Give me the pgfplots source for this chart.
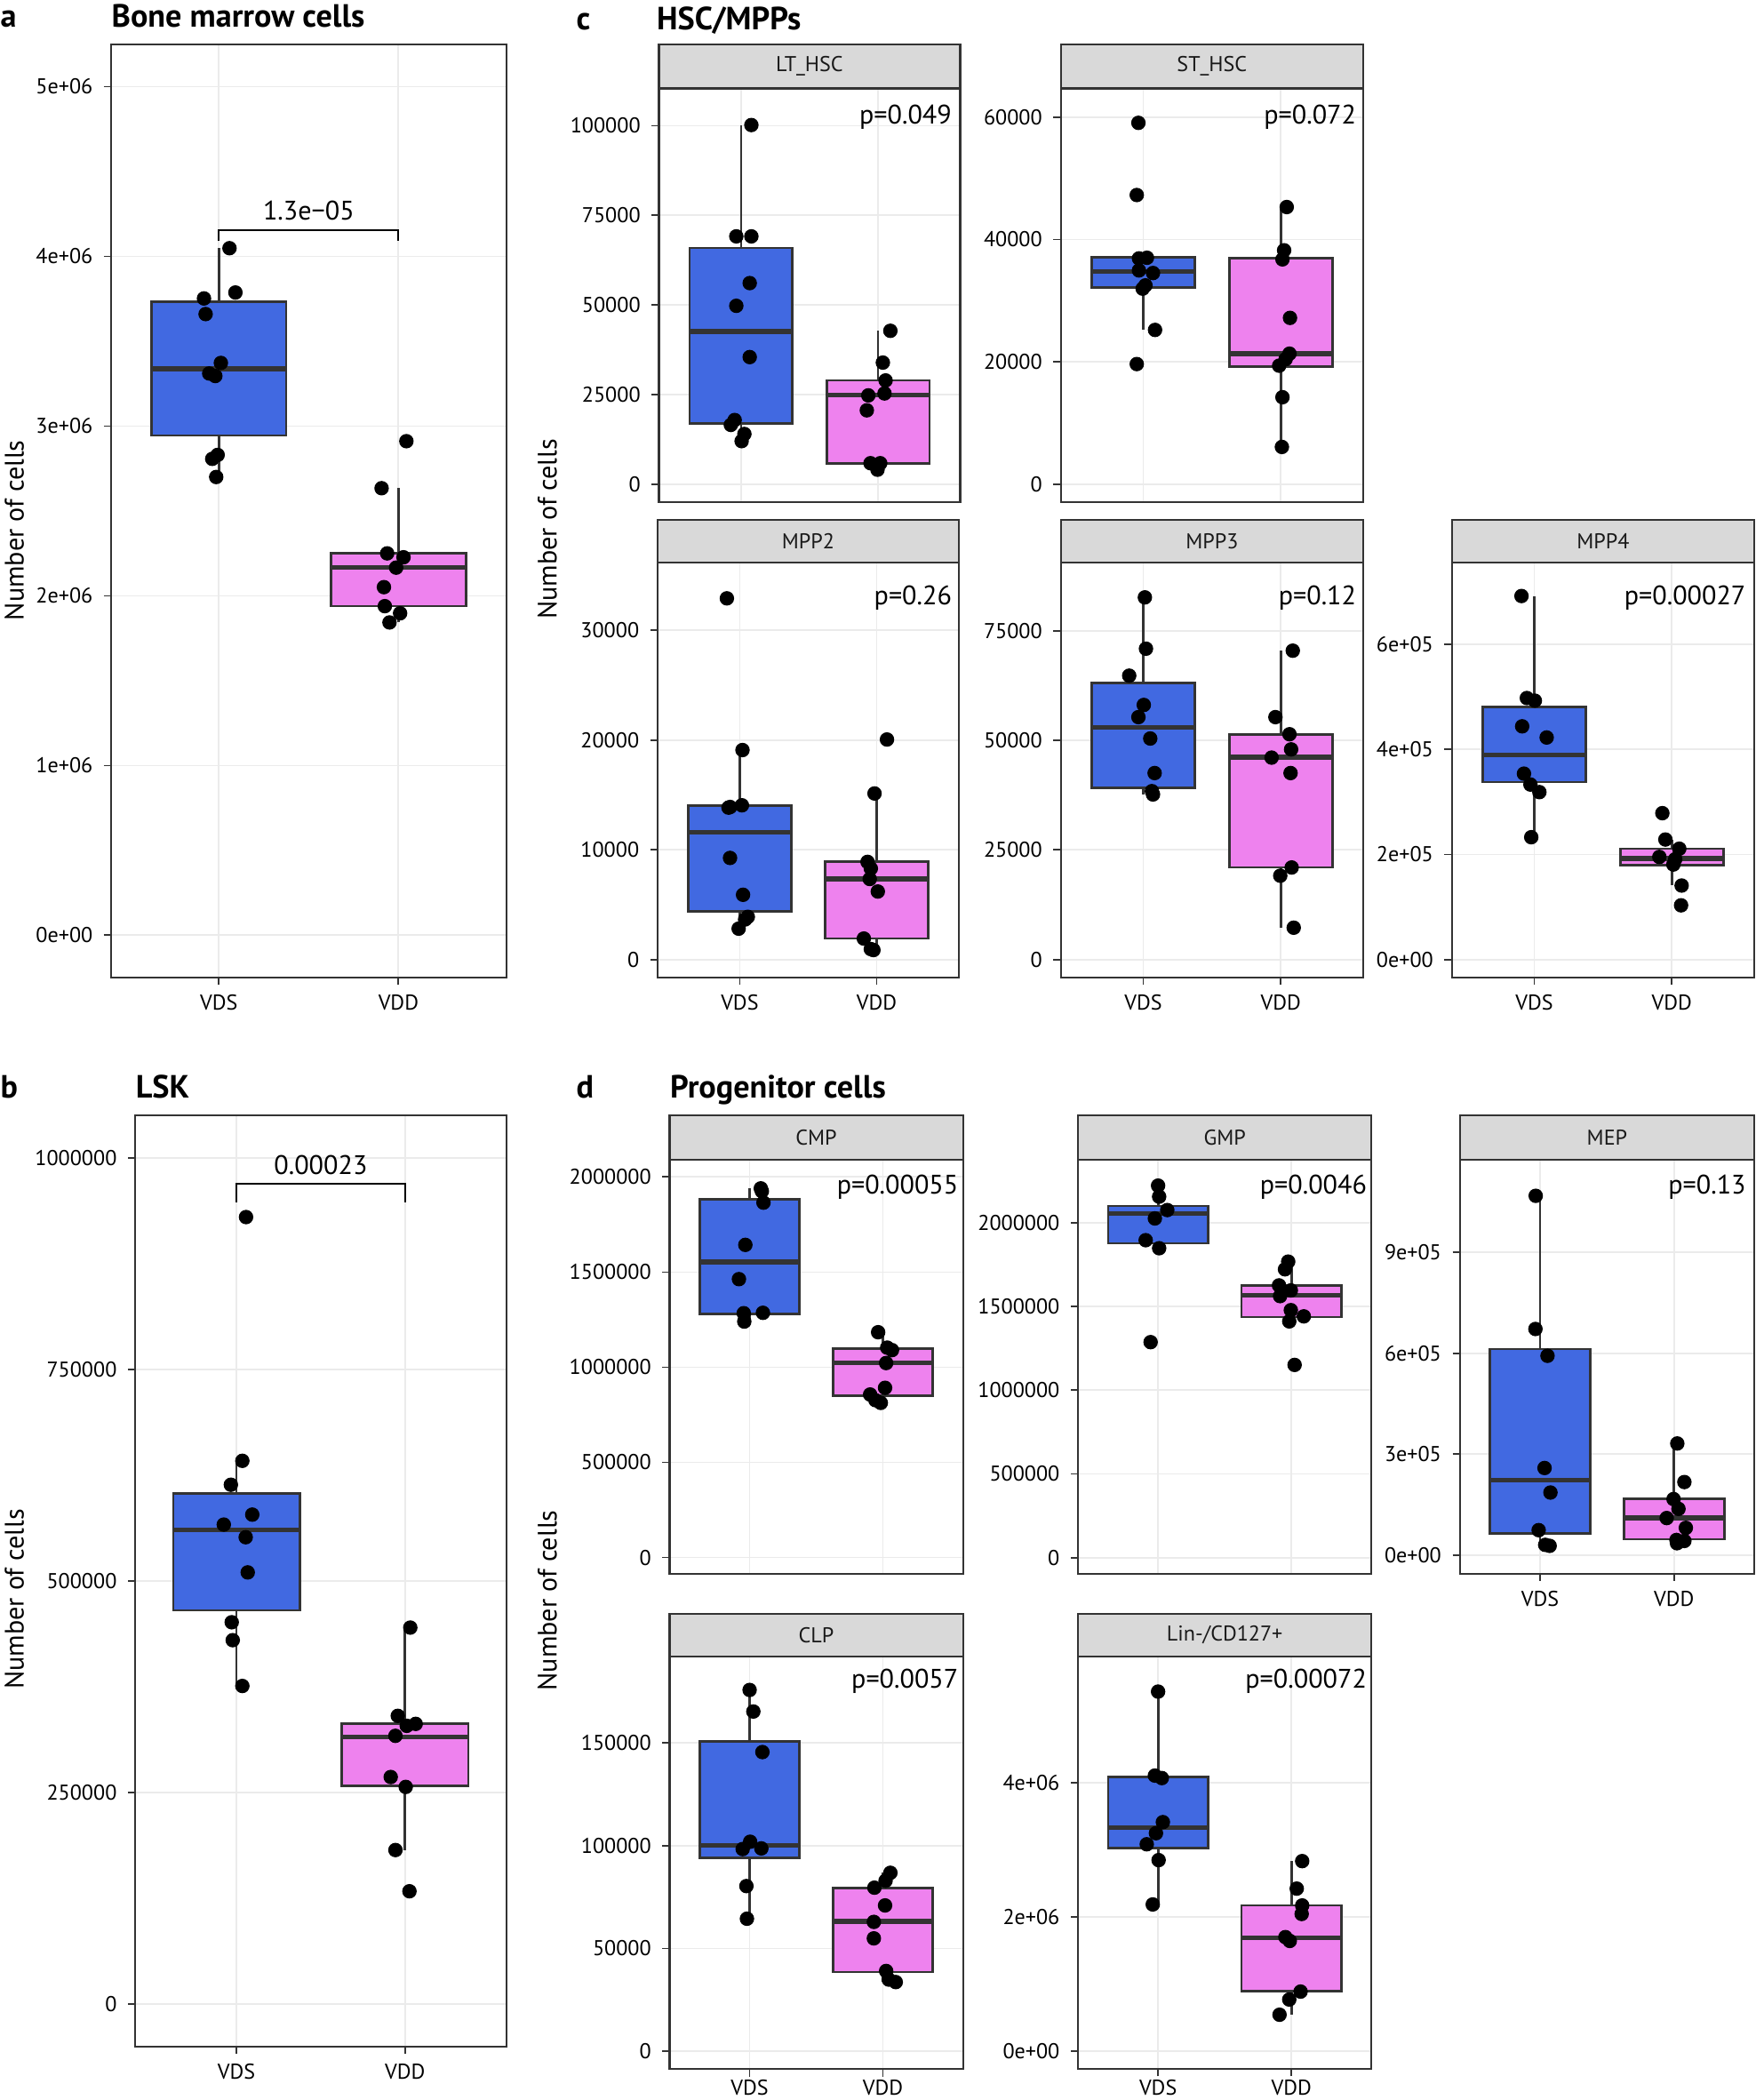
\documentclass[border=0pt]{standalone}
\usepackage{fontspec}
\setmainfont{PT Sans}
\usepackage{pgfplots}
\pgfplotsset{compat=1.18}
\usepgfplotslibrary{statistics}

\definecolor{vds}{HTML}{4169E1}
\definecolor{vdd}{HTML}{EE82EE}
\definecolor{ggdark}{HTML}{333333}
\definecolor{gggrid}{HTML}{EBEBEB}
\definecolor{ggstrip}{HTML}{D9D9D9}

% one pixel of the 1311 x 1568 layout grid
\def\px{0.5pt}

\pgfplotsset{
  gg/.style={
    scale only axis, anchor=north west, clip=false,
    xmin=0.4, xmax=2.6, xtick={1,2}, xticklabels={VDS,VDD},
    scaled y ticks=false,
    tick pos=left, tick align=outside, major tick length=2.7pt,
    tick style={draw=ggdark, line width=0.6pt},
    axis line style={draw=ggdark, line width=0.7pt},
    grid=major, major grid style={draw=gggrid, line width=0.6pt},
    tick label style={font=\fontsize{8}{9.6}\selectfont},
    yticklabel style={inner xsep=4pt},
    xticklabel style={inner ysep=3.5pt},
    boxplot/draw direction=y,
    boxplot/box extend=0.75,
    boxplot/whisker extend=0,
    boxplot/every median/.style={line width=1.8pt},
  },
  noxlab/.style={xticklabels={}, xtick style={draw=none}},
  lowrow/.style={xticklabel style={inner ysep=1.2pt}},
  bx/.style={draw=ggdark, line width=0.9pt},
  pts/.style={only marks, mark=*, mark size=2.5pt, black},
}
\tikzset{
  stripbox/.style={draw=ggdark, fill=ggstrip, line width=0.7pt},
  striplab/.style={font=\fontsize{8}{9.6}\selectfont, text=black!90},
  pval/.style={anchor=north east, inner sep=0pt, font=\fontsize{10}{12}\selectfont},
  ptitle/.style={anchor=base west, inner sep=0pt, font=\bfseries\fontsize{12}{14}\selectfont},
  ylab/.style={rotate=90, anchor=north, inner sep=0pt, font=\fontsize{10}{12}\selectfont},
}

\begin{document}
\begin{tikzpicture}
\path[use as bounding box] (0,0) rectangle (1311*\px,-1568*\px);

% titles and shared labels
\node[ptitle] at (0*\px,-20*\px) {a};
\node[ptitle] at (83*\px,-20*\px) {Bone marrow cells};
\node[ptitle] at (0*\px,-820*\px) {b};
\node[ptitle] at (101*\px,-820*\px) {LSK};
\node[ptitle] at (430*\px,-22*\px) {c};
\node[ptitle] at (490*\px,-22*\px) {HSC/MPPs};
\node[ptitle] at (430*\px,-820*\px) {d};
\node[ptitle] at (500*\px,-820*\px) {Progenitor cells};
\node[ylab] at (3*\px,-396*\px) {Number of cells};
\node[ylab] at (3*\px,-1194*\px) {Number of cells};
\node[ylab] at (401*\px,-395*\px) {Number of cells};
\node[ylab] at (401*\px,-1195*\px) {Number of cells};

% ---------- a: bone marrow ----------
\begin{axis}[gg, at={(83*\px,-33*\px)}, width=147.5pt, height=348.5pt,
  ymin=-250000, ymax=5250000,
  ytick={0,1000000,2000000,3000000,4000000,5000000},
  yticklabels={0e+00,1e+06,2e+06,3e+06,4e+06,5e+06}]
\addplot[bx, fill=vds, boxplot prepared={draw position=1, lower whisker=2700000,
  lower quartile=2945000, median=3337000, upper quartile=3733000, upper whisker=4048000}] coordinates {};
\addplot[bx, fill=vdd, boxplot prepared={draw position=2, lower whisker=1843000,
  lower quartile=1939000, median=2166000, upper quartile=2250000, upper whisker=2634000}] coordinates {};
\addplot[pts] coordinates {(1.059,4048000)(0.917,3752000)(1.092,3787000)(0.926,3660000)(1.011,3372000)
  (0.946,3310000)(0.980,3295000)(0.993,2830000)(0.963,2807000)(0.985,2700000)};
\addplot[pts] coordinates {(2.044,2911000)(1.906,2634000)(1.937,2250000)(2.028,2227000)(1.987,2166000)
  (1.919,2051000)(1.924,1939000)(2.009,1897000)(1.950,1843000)};
\addplot[black, line width=0.6pt] coordinates {(1,4090000)(1,4155000)(2,4155000)(2,4090000)};
\node[anchor=south, inner sep=0pt, font=\fontsize{10}{12}\selectfont] at (axis cs:1.5,4210000) {1.3e−05};
\end{axis}

% ---------- b: LSK ----------
\begin{axis}[gg, at={(101*\px,-833*\px)}, width=138.5pt, height=347.5pt,
  ymin=-50000, ymax=1050000,
  ytick={0,250000,500000,750000,1000000},
  yticklabels={0,250000,500000,750000,1000000}]
\addplot[bx, fill=vds, boxplot prepared={draw position=1, lower whisker=376000,
  lower quartile=465500, median=560400, upper quartile=603600, upper whisker=641300}] coordinates {};
\addplot[bx, fill=vdd, boxplot prepared={draw position=2, lower whisker=182100,
  lower quartile=258200, median=315500, upper quartile=331200, upper whisker=445000}] coordinates {};
\addplot[pts] coordinates {(1.057,930140)(1.035,642070)(0.967,613800)(1.094,578500)(0.925,566700)
  (1.055,551800)(1.067,510200)(0.972,451300)(0.978,430100)(1.035,376000)};
\addplot[pts] coordinates {(2.031,445000)(1.957,340700)(2.010,328900)(2.063,331200)(1.943,317100)
  (1.915,268400)(2.004,256700)(1.943,182100)(2.026,133400)};
\addplot[black, line width=0.6pt] coordinates {(1,947400)(1,969300)(2,969300)(2,947400)};
\node[anchor=south, inner sep=0pt, font=\fontsize{10}{12}\selectfont] at (axis cs:1.5,979000) {0.00023};
\end{axis}

% ---------- c: LT_HSC ----------
\begin{axis}[gg, noxlab, at={(492*\px,-66*\px)}, width=112.5pt, height=154.5pt,
  ymin=-5000, ymax=110400,
  ytick={0,25000,50000,75000,100000}, yticklabels={0,25000,50000,75000,100000}]
\addplot[bx, fill=vds, boxplot prepared={draw position=1, lower whisker=12036,
  lower quartile=17014, median=42624, upper quartile=65882, upper whisker=100181}] coordinates {};
\addplot[bx, fill=vdd, boxplot prepared={draw position=2, lower whisker=4072,
  lower quartile=5882, median=24887, upper quartile=28959, upper whisker=42805}] coordinates {};
\addplot[pts] coordinates {(1.075,100181)(0.965,69140)(1.075,69140)(1.063,56109)(0.965,49774)
  (1.063,35475)(0.953,17919)(0.925,16561)(1.024,14027)(1.004,12036)};
\addplot[pts] coordinates {(2.090,42805)(2.035,33937)(2.055,28959)(1.929,24796)(2.047,25339)
  (1.918,20633)(1.945,5882)(2.016,5882)(1.996,4072)};
\draw[stripbox] (rel axis cs:0,1) rectangle ([yshift=16.5pt]rel axis cs:1,1);
\node[striplab] at ([yshift=8.25pt]rel axis cs:0.5,1) {LT\_HSC};
\node[pval] at (rel axis cs:0.973,0.962) {p=0.049};
\end{axis}

% ---------- c: ST_HSC ----------
\begin{axis}[gg, noxlab, at={(792*\px,-66*\px)}, width=113pt, height=154.5pt,
  ymin=-2920, ymax=64666,
  ytick={0,20000,40000,60000}, yticklabels={0,20000,40000,60000}]
\addplot[bx, fill=vds, boxplot prepared={draw position=1, lower whisker=25219,
  lower quartile=32121, median=34776, upper quartile=37059, upper whisker=37100}] coordinates {};
\addplot[bx, fill=vdd, boxplot prepared={draw position=2, lower whisker=6105,
  lower quartile=19273, median=21343, upper quartile=36900, upper whisker=45288}] coordinates {};
\addplot[pts] coordinates {(0.965,59039)(0.953,47253)(0.969,36900)(1.027,37006)(0.969,34935)
  (1.071,34510)(1.016,32493)(0.996,31962)(1.086,25219)(0.953,19644)};
\addplot[pts] coordinates {(2.043,45288)(2.024,38227)(2.012,36741)(2.067,27184)(2.063,21343)
  (2.035,20441)(1.988,19379)(2.012,14229)(2.008,6105)};
\draw[stripbox] (rel axis cs:0,1) rectangle ([yshift=16.5pt]rel axis cs:1,1);
\node[striplab] at ([yshift=8.25pt]rel axis cs:0.5,1) {ST\_HSC};
\node[pval] at (rel axis cs:0.978,0.962) {p=0.072};
\end{axis}

% ---------- c: MPP2 ----------
\begin{axis}[gg, at={(491*\px,-420*\px)}, width=112.5pt, height=155pt,
  ymin=-1648, ymax=36170,
  ytick={0,10000,20000,30000}, yticklabels={0,10000,20000,30000}]
\addplot[bx, fill=vds, boxplot prepared={draw position=1, lower whisker=2817,
  lower quartile=4375, median=11597, upper quartile=14055, upper whisker=19089}] coordinates {};
\addplot[bx, fill=vdd, boxplot prepared={draw position=2, lower whisker=869,
  lower quartile=1918, median=7342, upper quartile=8900, upper whisker=15133}] coordinates {};
\addplot[pts] coordinates {(0.906,32904)(1.020,19089)(0.918,13845)(0.930,13900)(1.016,14055)
  (0.929,9260)(1.024,5903)(1.059,3896)(1.039,3656)(0.992,2817)};
\addplot[pts] coordinates {(2.075,20048)(1.984,15133)(1.933,8900)(1.957,8301)(1.949,7342)
  (2.008,6203)(1.906,1918)(1.957,959)(1.976,869)};
\draw[stripbox] (rel axis cs:0,1) rectangle ([yshift=16pt]rel axis cs:1,1);
\node[striplab] at ([yshift=8pt]rel axis cs:0.5,1) {MPP2};
\node[pval] at (rel axis cs:0.978,0.945) {p=0.26};
\end{axis}

% ---------- c: MPP3 ----------
\begin{axis}[gg, at={(792*\px,-420*\px)}, width=113pt, height=155pt,
  ymin=-4125, ymax=90532,
  ytick={0,25000,50000,75000}, yticklabels={0,25000,50000,75000}]
\addplot[bx, fill=vds, boxplot prepared={draw position=1, lower whisker=37654,
  lower quartile=39154, median=52955, upper quartile=63006, upper whisker=82583}] coordinates {};
\addplot[bx, fill=vdd, boxplot prepared={draw position=2, lower whisker=7276,
  lower quartile=21002, median=46130, upper quartile=51380, upper whisker=70432}] coordinates {};
\addplot[pts] coordinates {(1.012,82583)(1.020,70882)(0.898,64732)(1.004,58057)(0.965,55281)
  (1.051,50406)(1.083,42529)(1.063,38404)(1.071,37654)};
\addplot[pts] coordinates {(2.087,70432)(1.961,55281)(2.063,51380)(2.075,47930)(1.933,46055)
  (2.071,42529)(2.079,21002)(1.996,19127)(2.094,7276)};
\draw[stripbox] (rel axis cs:0,1) rectangle ([yshift=16pt]rel axis cs:1,1);
\node[striplab] at ([yshift=8pt]rel axis cs:0.5,1) {MPP3};
\node[pval] at (rel axis cs:0.978,0.945) {p=0.12};
\end{axis}

% ---------- c: MPP4 ----------
\begin{axis}[gg, at={(1084*\px,-420*\px)}, width=113pt, height=155pt,
  ymin=-34400, ymax=755000,
  ytick={0,200000,400000,600000}, yticklabels={0e+00,2e+05,4e+05,6e+05}]
\addplot[bx, fill=vds, boxplot prepared={draw position=1, lower whisker=232700,
  lower quartile=337800, median=389100, upper quartile=480450, upper whisker=691300}] coordinates {};
\addplot[bx, fill=vdd, boxplot prepared={draw position=2, lower whisker=140800,
  lower quartile=179500, median=192100, upper quartile=210800, upper whisker=228300}] coordinates {};
\addplot[pts] coordinates {(0.907,691300)(0.946,497300)(1.004,492300)(0.912,443500)(1.090,422300)
  (0.925,353500)(0.972,332800)(1.037,318400)(0.978,232700)};
\addplot[pts] coordinates {(1.931,278400)(1.953,228300)(2.054,210800)(1.909,195200)(2.024,190800)
  (2.011,180800)(2.071,140800)(2.067,103200)};
\draw[stripbox] (rel axis cs:0,1) rectangle ([yshift=16pt]rel axis cs:1,1);
\node[striplab] at ([yshift=8pt]rel axis cs:0.5,1) {MPP4};
\node[pval] at (rel axis cs:0.973,0.945) {p=0.00027};
\end{axis}

% ---------- d: CMP ----------
\begin{axis}[gg, noxlab, at={(500*\px,-866*\px)}, width=109.5pt, height=154.5pt,
  ymin=-85000, ymax=2090000,
  ytick={0,500000,1000000,1500000,2000000}, yticklabels={0,500000,1000000,1500000,2000000}]
\addplot[bx, fill=vds, boxplot prepared={draw position=1, lower whisker=1240000,
  lower quartile=1280000, median=1553000, upper quartile=1883000, upper whisker=1940000}] coordinates {};
\addplot[bx, fill=vdd, boxplot prepared={draw position=2, lower whisker=812600,
  lower quartile=849600, median=1022000, upper quartile=1099000, upper whisker=1184000}] coordinates {};
\addplot[pts] coordinates {(1.084,1940000)(1.092,1925000)(1.104,1865000)(0.968,1643000)(0.920,1463000)
  (1.100,1286000)(0.956,1284000)(0.960,1240000)};
\addplot[pts] coordinates {(1.964,1184000)(2.032,1103000)(2.068,1090000)(2.024,1022000)(2.016,891800)
  (1.904,856600)(1.944,826700)(1.984,812600)};
\draw[stripbox] (rel axis cs:0,1) rectangle ([yshift=16.5pt]rel axis cs:1,1);
\node[striplab] at ([yshift=8.25pt]rel axis cs:0.5,1) {CMP};
\node[pval] at (rel axis cs:0.986,0.964) {p=0.00055};
\end{axis}

% ---------- d: GMP ----------
\begin{axis}[gg, noxlab, at={(805*\px,-866*\px)}, width=109.5pt, height=154.5pt,
  ymin=-96000, ymax=2376000,
  ytick={0,500000,1000000,1500000,2000000}, yticklabels={0,500000,1000000,1500000,2000000}]
\addplot[bx, fill=vds, boxplot prepared={draw position=1, lower whisker=1848000,
  lower quartile=1878000, median=2056000, upper quartile=2100000, upper whisker=2222000}] coordinates {};
\addplot[bx, fill=vdd, boxplot prepared={draw position=2, lower whisker=1411000,
  lower quartile=1437000, median=1566000, upper quartile=1624000, upper whisker=1768000}] coordinates {};
\addplot[pts] coordinates {(1.000,2222000)(1.008,2156000)(1.069,2076000)(0.976,2026000)(0.907,1896000)
  (1.008,1848000)(0.944,1287000)};
\addplot[pts] coordinates {(1.976,1768000)(1.952,1722000)(1.907,1626000)(1.996,1596000)(1.915,1562000)
  (1.996,1478000)(2.093,1441000)(1.984,1411000)(2.024,1151000)};
\draw[stripbox] (rel axis cs:0,1) rectangle ([yshift=16.5pt]rel axis cs:1,1);
\node[striplab] at ([yshift=8.25pt]rel axis cs:0.5,1) {GMP};
\node[pval] at (rel axis cs:0.986,0.964) {p=0.0046};
\end{axis}

% ---------- d: MEP ----------
\begin{axis}[gg, at={(1090*\px,-866*\px)}, width=110pt, height=154.5pt,
  ymin=-54400, ymax=1173800,
  ytick={0,300000,600000,900000}, yticklabels={0e+00,3e+05,6e+05,9e+05}]
\addplot[bx, fill=vds, boxplot prepared={draw position=1, lower whisker=28200,
  lower quartile=65000, median=223300, upper quartile=612600, upper whisker=1067000}] coordinates {};
\addplot[bx, fill=vdd, boxplot prepared={draw position=2, lower whisker=35900,
  lower quartile=47600, median=110700, upper quartile=167000, upper whisker=332000}] coordinates {};
\addplot[pts] coordinates {(0.967,1067000)(0.965,671800)(1.055,592200)(1.033,259200)(1.077,186400)
  (0.989,74800)(1.038,31100)(1.071,28200)};
\addplot[pts] coordinates {(2.024,332000)(2.077,217500)(1.996,167000)(2.033,137900)(1.945,110700)
  (2.088,81600)(2.018,45600)(2.077,42700)(2.022,35900)};
\draw[stripbox] (rel axis cs:0,1) rectangle ([yshift=16.5pt]rel axis cs:1,1);
\node[striplab] at ([yshift=8.25pt]rel axis cs:0.5,1) {MEP};
\node[pval] at (rel axis cs:0.973,0.964) {p=0.13};
\end{axis}

% ---------- d: CLP ----------
\begin{axis}[gg, lowrow, at={(500*\px,-1237*\px)}, width=109.5pt, height=154pt,
  ymin=-8788, ymax=191950,
  ytick={0,50000,100000,150000}, yticklabels={0,50000,100000,150000}]
\addplot[bx, fill=vds, boxplot prepared={draw position=1, lower whisker=64450,
  lower quartile=94050, median=100200, upper quartile=150800, upper whisker=175770}] coordinates {};
\addplot[bx, fill=vdd, boxplot prepared={draw position=2, lower whisker=33610,
  lower quartile=38540, median=63210, upper quartile=79400, upper whisker=86800}] coordinates {};
\addplot[pts] coordinates {(1.000,175770)(1.028,165280)(1.096,145540)(1.004,101910)(0.948,98360)
  (1.088,98670)(0.976,80330)(0.980,64450)};
\addplot[pts] coordinates {(2.056,86800)(2.020,82950)(1.936,79560)(2.016,70920)(1.932,62900)
  (1.932,54890)(2.024,39010)(2.044,34840)(2.096,33610)};
\draw[stripbox] (rel axis cs:0,1) rectangle ([yshift=16pt]rel axis cs:1,1);
\node[striplab] at ([yshift=8pt]rel axis cs:0.5,1) {CLP};
\node[pval] at (rel axis cs:0.986,0.971) {p=0.0057};
\end{axis}

% ---------- d: Lin-/CD127+ ----------
\begin{axis}[gg, lowrow, at={(805*\px,-1237*\px)}, width=109.5pt, height=154pt,
  ymin=-269000, ymax=5880000,
  ytick={0,2000000,4000000}, yticklabels={0e+00,2e+06,4e+06}]
\addplot[bx, fill=vds, boxplot prepared={draw position=1, lower whisker=2187000,
  lower quartile=3027000, median=3334000, upper quartile=4090000, upper whisker=5360000}] coordinates {};
\addplot[bx, fill=vdd, boxplot prepared={draw position=2, lower whisker=543000,
  lower quartile=897000, median=1691000, upper quartile=2172000, upper whisker=2833000}] coordinates {};
\addplot[pts] coordinates {(1.000,5360000)(0.976,4108000)(1.028,4071000)(1.036,3414000)(0.984,3249000)
  (0.915,3084000)(1.004,2848000)(0.960,2187000)};
\addplot[pts] coordinates {(2.081,2833000)(2.040,2423000)(2.081,2172000)(2.077,2045000)(1.955,1700000)
  (1.988,1643000)(2.069,888000)(1.984,770000)(1.911,543000)};
\draw[stripbox] (rel axis cs:0,1) rectangle ([yshift=16pt]rel axis cs:1,1);
\node[striplab] at ([yshift=8pt]rel axis cs:0.5,1) {Lin-/CD127+};
\node[pval] at (rel axis cs:0.986,0.971) {p=0.00072};
\end{axis}

\end{tikzpicture}
\end{document}
